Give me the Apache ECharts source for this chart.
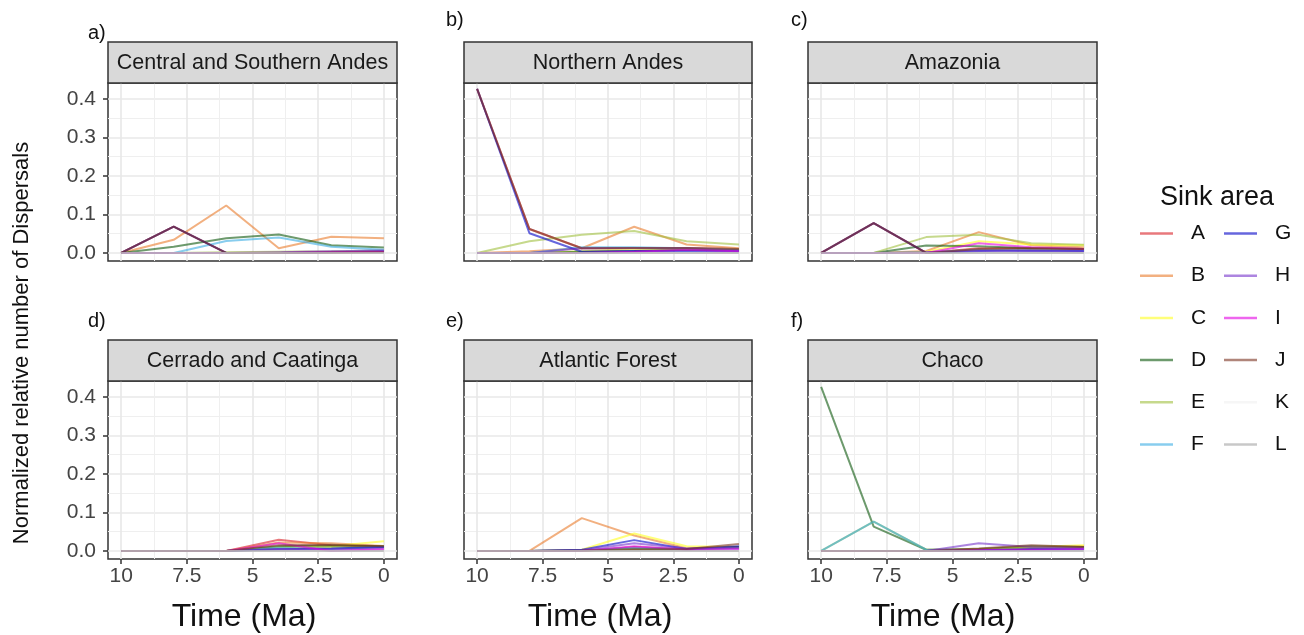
<!DOCTYPE html>
<html>
<head>
<meta charset="utf-8">
<title>Sink area dispersals</title>
<script src="https://cdn.jsdelivr.net/npm/echarts@6/dist/echarts.min.js"></script>
<style>
  html, body { margin: 0; padding: 0; background: #fff; }
  #main { width: 1304px; height: 635px; }
</style>
</head>
<body>
<div id="main"></div>
<script>
// time points (Ma), same for every panel
const times = [10, 8, 6, 4, 2, 0];
const sinks = ['A', 'B', 'C', 'D', 'E', 'F', 'G', 'H', 'I', 'J', 'K', 'L'];
const xTicks = [10, 7.5, 5, 2.5, 0];
const xMinor = [8.75, 6.25, 3.75, 1.25];
const yTicks = [0, 0.1, 0.2, 0.3, 0.4];
const yMinor = [0.05, 0.15, 0.25, 0.35];

const panelTitles = ['Central and Southern Andes', 'Northern Andes', 'Amazonia',
  'Cerrado and Caatinga', 'Atlantic Forest', 'Chaco'];
const panelTags = ['a)', 'b)', 'c)', 'd)', 'e)', 'f)'];

// values per sink area, one array per sink
const centralSouthernAndes = {
  A: [0, 0.068, 0, 0, 0.001, 0.003],
  B: [0, 0.034, 0.123, 0.012, 0.042, 0.038],
  C: [0, 0, 0, 0.001, 0.002, 0.004],
  D: [0, 0.016, 0.038, 0.048, 0.02, 0.014],
  E: [0, 0, 0.002, 0.003, 0.004, 0.006],
  F: [0, 0, 0.031, 0.04, 0.016, 0.008],
  G: [0, 0.068, 0, 0, 0.002, 0.004],
  H: [0, 0, 0, 0.002, 0.004, 0.006],
  I: [0, 0, 0, 0, 0.002, 0.003],
  J: [0, 0.068, 0, 0, 0.001, 0.002],
  K: [0, 0, 0, 0, 0, 0],
  L: [0, 0, 0, 0, 0, 0]
};
const northernAndes = {
  A: [0.426, 0.062, 0.012, 0.013, 0.013, 0.01],
  B: [0, 0.004, 0.012, 0.068, 0.022, 0.012],
  C: [0, 0, 0.004, 0.01, 0.01, 0.008],
  D: [0, 0, 0.003, 0.005, 0.008, 0.006],
  E: [0, 0.03, 0.047, 0.057, 0.03, 0.022],
  F: [0, 0, 0.015, 0.015, 0.012, 0.008],
  G: [0.426, 0.051, 0.003, 0.005, 0.005, 0.004],
  H: [0, 0, 0.012, 0.012, 0.012, 0.006],
  I: [0, 0, 0, 0.003, 0.008, 0.004],
  J: [0.426, 0.062, 0.012, 0.013, 0.013, 0.01],
  K: [0, 0, 0, 0, 0, 0],
  L: [0, 0, 0, 0, 0, 0]
};
const amazonia = {
  A: [0, 0.077, 0, 0.012, 0.012, 0.01],
  B: [0, 0, 0.005, 0.054, 0.02, 0.015],
  C: [0, 0, 0.003, 0.03, 0.022, 0.02],
  D: [0, 0, 0.019, 0.017, 0.012, 0.01],
  E: [0, 0, 0.041, 0.047, 0.025, 0.021],
  F: [0, 0, 0.002, 0.008, 0.006, 0.005],
  G: [0, 0.077, 0, 0.005, 0.006, 0.005],
  H: [0, 0, 0.002, 0.006, 0.005, 0.004],
  I: [0, 0, 0, 0.025, 0.015, 0.01],
  J: [0, 0.077, 0, 0.01, 0.012, 0.01],
  K: [0, 0, 0, 0, 0, 0],
  L: [0, 0, 0, 0, 0, 0]
};
const cerradoCaatinga = {
  A: [0, 0, 0, 0.029, 0.015, 0.01],
  B: [0, 0, 0, 0.022, 0.02, 0.013],
  C: [0, 0, 0, 0.01, 0.012, 0.025],
  D: [0, 0, 0, 0.012, 0.014, 0.012],
  E: [0, 0, 0, 0.006, 0.008, 0.01],
  F: [0, 0, 0, 0.008, 0.005, 0.01],
  G: [0, 0, 0, 0.004, 0.006, 0.01],
  H: [0, 0, 0, 0.005, 0.004, 0.006],
  I: [0, 0, 0, 0.02, 0, 0.004],
  J: [0, 0, 0, 0.015, 0.016, 0.012],
  K: [0, 0, 0, 0, 0, 0],
  L: [0, 0, 0, 0, 0, 0]
};
const atlanticForest = {
  A: [0, 0, 0, 0.01, 0.004, 0.008],
  B: [0, 0, 0.085, 0.04, 0.007, 0.01],
  C: [0, 0, 0.003, 0.045, 0.012, 0.01],
  D: [0, 0, 0.002, 0.005, 0.004, 0.01],
  E: [0, 0, 0, 0.006, 0.004, 0.008],
  F: [0, 0, 0.002, 0.008, 0.004, 0.006],
  G: [0, 0, 0.003, 0.028, 0.005, 0.012],
  H: [0, 0, 0.002, 0.02, 0.006, 0.008],
  I: [0, 0, 0, 0.012, 0.003, 0.005],
  J: [0, 0, 0.001, 0.004, 0.005, 0.018],
  K: [0, 0, 0, 0, 0, 0],
  L: [0, 0, 0, 0, 0, 0]
};
const chaco = {
  A: [0, 0, 0, 0.002, 0.006, 0.01],
  B: [0, 0, 0, 0.004, 0.008, 0.012],
  C: [0, 0, 0, 0.004, 0.01, 0.015],
  D: [0.426, 0.063, 0.003, 0.005, 0.012, 0.01],
  E: [0, 0.076, 0.003, 0.003, 0.01, 0.008],
  F: [0, 0.076, 0.003, 0.002, 0.004, 0.006],
  G: [0, 0, 0, 0.002, 0.004, 0.004],
  H: [0, 0, 0, 0.02, 0.01, 0.008],
  I: [0, 0, 0, 0.003, 0.003, 0.005],
  J: [0, 0, 0, 0.006, 0.015, 0.01],
  K: [0, 0, 0, 0, 0, 0],
  L: [0, 0, 0, 0, 0, 0]
};
const panels = [centralSouthernAndes, northernAndes, amazonia, cerradoCaatinga, atlanticForest, chaco];

// saturated colours, drawn with alpha like the original
const sinkColors = {
  A: '#d91e25', B: '#e97b2b', C: '#ffff21', D: '#0c570c', E: '#a0c03f', F: '#39ace3',
  G: '#0000c6', H: '#7634cb', I: '#e300e3', J: '#7b3421', K: '#f0f0f0', L: '#a3a3a3'
};
const lineAlpha = 0.6;

const FONT = 'Liberation Sans, Arial, sans-serif';
const colLeft = [108, 464, 808];
const colWidth = [289, 288, 289];
const rowTop = [83, 381];
const plotH = 178;
const stripH = 41;

var chart = echarts.init(document.getElementById('main'));

var grids = [], xAxes = [], yAxes = [], series = [], graphics = [];

panels.forEach(function (panel, p) {
  var col = p % 3, row = Math.floor(p / 3);
  grids.push({
    left: colLeft[col], top: rowTop[row], width: colWidth[col], height: plotH,
    show: true, borderColor: '#333', borderWidth: 1.5, backgroundColor: '#fff'
  });
  var showX = row === 1, showY = col === 0;
  // major x axis
  xAxes.push({
    gridIndex: p, type: 'value', min: -0.5, max: 10.5, inverse: true,
    axisLine: { show: false, onZero: false },
    axisTick: { show: showX, length: 5, lineStyle: { color: '#333', width: 1.5 }, customValues: xTicks },
    axisLabel: { show: showX, customValues: xTicks, color: '#444', fontSize: 21, fontFamily: FONT, margin: 7 },
    splitLine: { show: true, lineStyle: { color: '#e8e8e8', width: 1.6 } }
  });
  // minor x grid
  xAxes.push({
    gridIndex: p, type: 'value', min: -0.5, max: 10.5, inverse: true,
    axisLine: { show: false, onZero: false },
    axisTick: { show: false, customValues: xMinor },
    axisLabel: { show: false },
    splitLine: { show: true, lineStyle: { color: '#efefef', width: 1 } }
  });
  yAxes.push({
    gridIndex: p, type: 'value', min: -0.021, max: 0.441,
    axisLine: { show: false, onZero: false },
    axisTick: { show: showY, length: 5, lineStyle: { color: '#333', width: 1.5 }, customValues: yTicks },
    axisLabel: { show: showY, customValues: yTicks, color: '#444', fontSize: 21, fontFamily: FONT, margin: 12,
      formatter: function (v) { return v.toFixed(1); } },
    splitLine: { show: true, lineStyle: { color: '#e8e8e8', width: 1.6 } }
  });
  yAxes.push({
    gridIndex: p, type: 'value', min: -0.021, max: 0.441,
    axisLine: { show: false, onZero: false },
    axisTick: { show: false, customValues: yMinor },
    axisLabel: { show: false },
    splitLine: { show: true, lineStyle: { color: '#efefef', width: 1 } }
  });

  sinks.forEach(function (s) {
    series.push({
      type: 'line', name: s, xAxisIndex: 2 * p, yAxisIndex: 2 * p,
      data: times.map(function (t, i) { return [t, panel[s][i]]; }),
      symbol: 'none', silent: true,
      color: sinkColors[s],
      lineStyle: { width: 2, color: sinkColors[s], opacity: lineAlpha }
    });
  });

  // strip + title
  var stripTop = rowTop[row] - stripH;
  graphics.push({
    type: 'rect', shape: { x: colLeft[col], y: stripTop, width: colWidth[col], height: stripH },
    style: { fill: '#d9d9d9', stroke: '#333', lineWidth: 1.5 }, z: 10
  });
  graphics.push({
    type: 'text', x: colLeft[col] + colWidth[col] / 2, y: stripTop + stripH / 2 + 1, z: 11,
    style: { text: panelTitles[p], font: '21.5px ' + FONT, fill: '#1a1a1a', align: 'center', verticalAlign: 'middle' }
  });
});

// panel tags
var tagPos = [[88, 33], [446, 20], [791, 20], [88, 321], [446, 321], [791, 321]];
panelTags.forEach(function (t, i) {
  graphics.push({
    type: 'text', x: tagPos[i][0], y: tagPos[i][1], z: 11,
    style: { text: t, font: '20px ' + FONT, fill: '#111', align: 'left', verticalAlign: 'middle' }
  });
});

// axis titles
[244, 600, 943].forEach(function (cx) {
  graphics.push({
    type: 'text', x: cx, y: 617, z: 11,
    style: { text: 'Time (Ma)', font: '32px ' + FONT, fill: '#111', align: 'center', verticalAlign: 'middle' }
  });
});
graphics.push({
  type: 'text', x: 22, y: 343, rotation: Math.PI / 2, z: 11,
  style: { text: 'Normalized relative number of Dispersals', font: '22px ' + FONT, fill: '#111', align: 'center', verticalAlign: 'middle' }
});
graphics.push({
  type: 'text', x: 1217, y: 198, z: 11,
  style: { text: 'Sink area', font: '27px ' + FONT, fill: '#111', align: 'center', verticalAlign: 'middle' }
});

var legendBase = {
  orient: 'vertical', icon: 'rect', itemWidth: 33, itemHeight: 2.5, itemGap: 22, top: 222,
  padding: 0, selectedMode: false,
  itemStyle: { opacity: lineAlpha },
  textStyle: { fontSize: 21, lineHeight: 20, fontFamily: FONT, color: '#111', padding: [0, 0, 0, 13] }
};

var option = {
  animation: false,
  backgroundColor: '#fff',
  grid: grids,
  xAxis: xAxes,
  yAxis: yAxes,
  legend: [
    Object.assign({}, legendBase, { left: 1140, top: 223, itemGap: 21.2, data: sinks.slice(0, 6) }),
    Object.assign({}, legendBase, { left: 1224, top: 223, itemGap: 21.2, data: sinks.slice(6) })
  ],
  graphic: graphics,
  series: series
};

chart.setOption(option);
</script>
</body>
</html>
